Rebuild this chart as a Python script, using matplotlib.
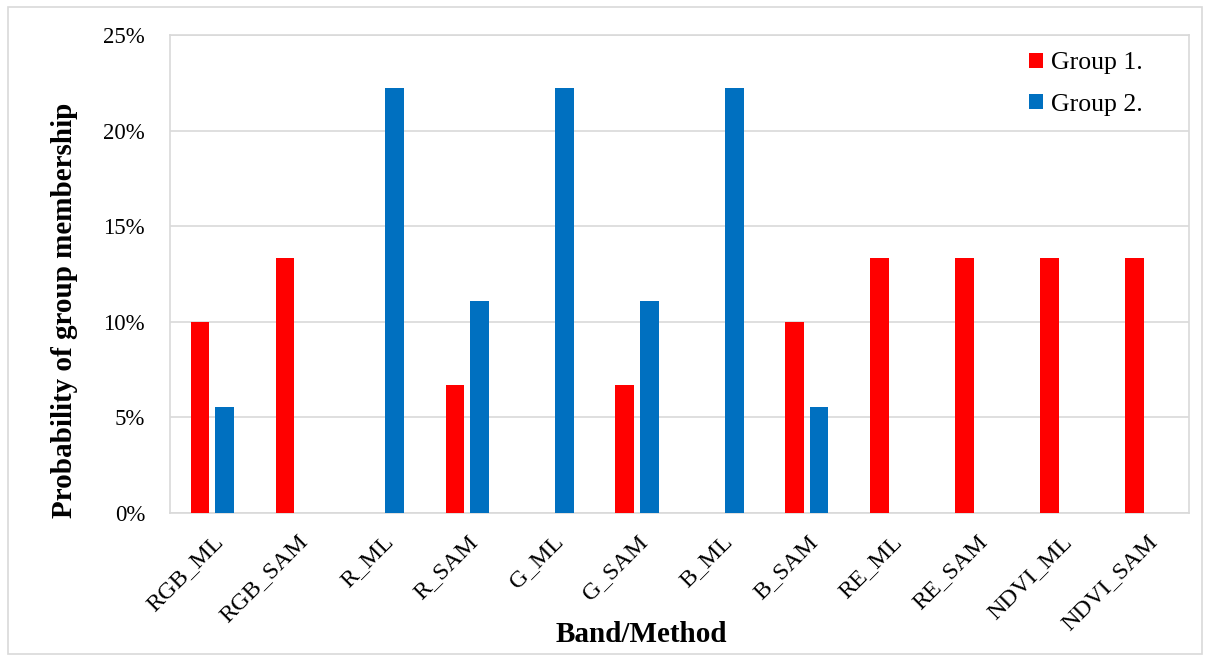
import matplotlib
matplotlib.use("Agg")
import matplotlib.pyplot as plt
from matplotlib.patches import Rectangle
import numpy as np

plt.rcParams['font.family'] = ['Liberation Serif', 'DejaVu Serif']

categories = ["RGB_ML", "RGB_SAM", "R_ML", "R_SAM", "G_ML", "G_SAM",
              "B_ML", "B_SAM", "RE_ML", "RE_SAM", "NDVI_ML", "NDVI_SAM"]
group1 = [10.0, 13.33, 0, 6.67, 0, 6.67, 0, 10.0, 13.33, 13.33, 13.33, 13.33]
group2 = [5.56, 0, 22.22, 11.11, 22.22, 11.11, 22.22, 5.56, 0, 0, 0, 0]
yticks = [0, 5, 10, 15, 20, 25]

fig = plt.figure(figsize=(12.1, 6.57), dpi=100)
ax = fig.add_axes([0.1405, 0.2192, 0.8421, 0.7275])

x = np.arange(len(categories))
w = 0.22
ax.bar(x - 0.145, group1, width=w, color="#FF0000", label="Group 1.", zorder=3)
ax.bar(x + 0.145, group2, width=w, color="#0070C0", label="Group 2.", zorder=3)

ax.set_xlim(-0.5, len(categories) - 0.5)
ax.set_ylim(0, 25)
ax.set_yticks(yticks)
ax.set_yticklabels([f"{t}%" for t in yticks], fontsize=16.5)
ax.set_xticks(x)
ax.set_xticklabels(categories, rotation=45, ha="right", rotation_mode="anchor", fontsize=17.5)
ax.tick_params(axis="y", length=0, pad=18)
ax.tick_params(axis="x", length=0, pad=13)
for lbl in ax.get_xticklabels():
    lbl.set_x(lbl.get_position()[0])
ax.grid(axis="y", color="#D9D9D9", linewidth=1.2, zorder=0)
for s in ax.spines.values():
    s.set_color("#D9D9D9")
    s.set_linewidth(1.2)

fig.text(641 / 1210, 1 - 634 / 657, "Band/Method", fontsize=21, fontweight="bold",
         ha="center", va="center")
fig.text(65 / 1210, 1 - 310 / 657, "Probability of group membership", fontsize=21,
         fontweight="bold", rotation=90, ha="center", va="center")

leg = ax.legend(loc="upper right", bbox_to_anchor=(0.977, 1.012), frameon=False, fontsize=18.5,
                handlelength=0.55, handleheight=0.55, handletextpad=0.3, labelspacing=0.75)

fig.patches.append(Rectangle((0.007, 0.005), 0.986, 0.985, transform=fig.transFigure,
                             fill=False, edgecolor="#D9D9D9", linewidth=1.2))

fig.savefig("out.png", dpi=100)
